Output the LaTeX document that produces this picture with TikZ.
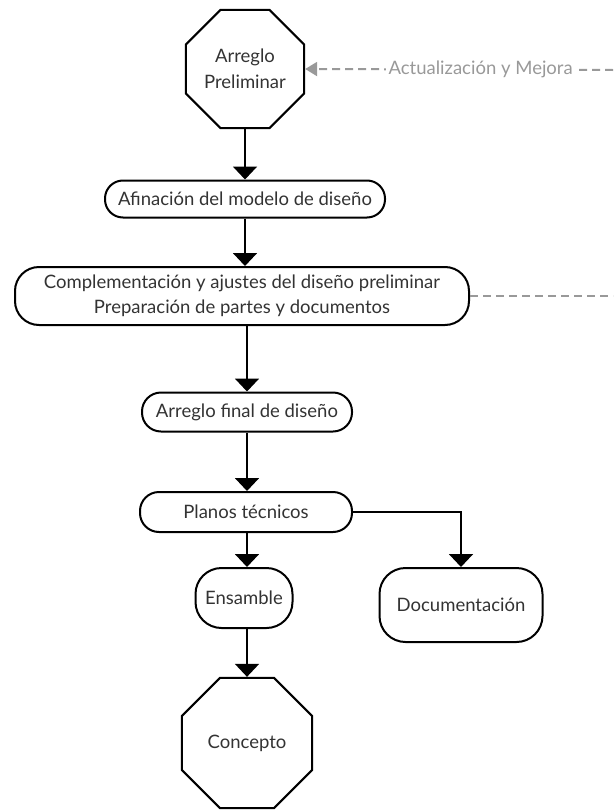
\documentclass[tikz,border=0pt]{standalone}
\usepackage{fontspec}
\setmainfont{Lato}
\usetikzlibrary{shapes.geometric,arrows.meta}
\definecolor{txtgray}{HTML}{333333}
\definecolor{loopgray}{HTML}{999999}
\tikzset{
  paso/.style={draw=black, line width=2pt, fill=white, text=txtgray, align=center, inner sep=0pt, font=\fontsize{18.5}{25.5}\selectfont},
  octa/.style={draw=black, line width=2pt, regular polygon, regular polygon sides=8, text=txtgray, align=center, inner sep=0pt, font=\fontsize{18.5}{25.5}\selectfont},
  flecha/.style={line width=2pt, -{Triangle[width=24pt,length=13pt]}},
  mejora/.style={draw=loopgray, line width=2pt, dash pattern=on 8pt off 5pt},
}
\begin{document}
\begin{tikzpicture}[x=1pt,y=-1pt]
  \useasboundingbox (0,0) rectangle (613,811);

  % main column of steps, top to bottom
  \node[octa, minimum size=128] (prelim) at (245,69) {Arreglo\\Preliminar};
  \node[paso, minimum width=280, minimum height=37, rounded corners=18] (afin) at (245,199) {Afinación del modelo de diseño};
  \node[paso, minimum width=454, minimum height=58, rounded corners=24] (compl) at (242,296) {Complementación y ajustes del diseño preliminar\\Preparación de partes y documentos};
  \node[paso, minimum width=210, minimum height=39, rounded corners=19] (final) at (247,412) {Arreglo final de diseño};
  \node[paso, minimum width=212, minimum height=40, rounded corners=19] (planos) at (246,512) {Planos técnicos};
  \node[paso, minimum width=97, minimum height=60, rounded corners=26] (ensamble) at (244,598) {Ensamble};
  \node[paso, minimum width=163, minimum height=74, rounded corners=26] (docu) at (461,605) {Documentación};
  \node[octa, minimum size=141] (concepto) at (247,743) {Concepto};

  % arrows down the column, kept vertical
  \draw[flecha] (prelim.south) -- (prelim.south |- afin.north);
  \draw[flecha] (afin.south) -- (afin.south |- compl.north);
  \draw[flecha] (final.north |- compl.south) -- (final.north);
  \draw[flecha] (final.south) -- (final.south |- planos.north);
  \draw[flecha] (final.south |- planos.south) -- (final.south |- ensamble.north);
  \draw[flecha] (concepto.north |- ensamble.south) -- (concepto.north);
  \draw[flecha] (planos.east) -| (docu.north);

  % feedback loop, it leaves the picture on the right
  \coordinate (salida) at (613,296);
  \coordinate (regreso) at (613,70);
  \draw[mejora] (compl.east) -- (salida);
  \draw[mejora, -{Triangle[width=14pt,length=12pt]}] (regreso) -- node[pos=0.43, fill=white, text=loopgray, inner sep=3pt, font=\fontsize{18.5}{23}\selectfont] (etiqueta) {Actualización y Mejora} (prelim.east);
\end{tikzpicture}
\end{document}
